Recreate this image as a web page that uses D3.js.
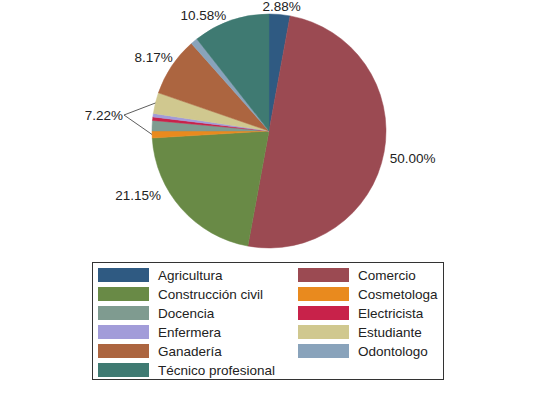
<!DOCTYPE html>
<html>
<head>
<meta charset="utf-8">
<script src="https://cdn.jsdelivr.net/npm/d3@7"></script>
<style>
  body { margin: 0; background: #fff; }
  text { font-family: "Liberation Sans", Arial, sans-serif; fill: #222; }
</style>
</head>
<body>
<svg id="pie" width="540" height="393"></svg>
<script>
// categories and shares (percent of respondents)
var categories = ["Agricultura", "Comercio", "Construcción civil", "Cosmetologa", "Docencia",
                  "Electricista", "Enfermera", "Estudiante", "Ganadería", "Odontologo", "Técnico profesional"];
var shares = [2.88, 50.00, 21.15, 0.96, 1.44, 0.48, 0.48, 2.88, 8.17, 0.96, 10.58];
var colors = ["#2f5a82", "#9b4a52", "#698a46", "#e98a1e", "#7f9b90", "#c8224a",
              "#a29cd9", "#d0c88f", "#ac6540", "#89a3bb", "#3f7a72"];

// labels shown on the pie
var labelText = ["2.88%", "50.00%", "21.15%", "8.17%", "10.58%"];
var labelSlice = ["Agricultura", "Comercio", "Construcción civil", "Ganadería", "Técnico profesional"];
// grouped label for the small slices
var groupLabel = "7.22%";
var groupSlices = ["Estudiante", "Cosmetologa"];

var svg = d3.select("#pie");
var cx = 269, cy = 131, r = 117;

var data = categories.map(function(c, i) { return { name: c, value: shares[i], color: colors[i] }; });

var pie = d3.pie().sort(null).value(function(d) { return d.value; });
var arcs = pie(data);
var arc = d3.arc().innerRadius(0).outerRadius(r);

var g = svg.append("g").attr("transform", "translate(" + cx + "," + cy + ")");

g.selectAll("path")
  .data(arcs)
  .enter()
  .append("path")
    .attr("d", arc)
    .attr("fill", function(d) { return d.data.color; })
    .attr("stroke", function(d) { return d.data.color; })
    .attr("stroke-width", 0.5);

// label nudges from the mid-angle point at radius 140
var nudge = [[0, 15], [6, 2], [-26, -29], [1, 4], [-20, 16]];
var labelArc = d3.arc().innerRadius(140).outerRadius(140);

labelText.forEach(function(t, i) {
  var a = arcs[categories.indexOf(labelSlice[i])];
  var p = labelArc.centroid(a);
  g.append("text")
    .attr("x", p[0] + nudge[i][0])
    .attr("y", p[1] + nudge[i][1])
    .attr("text-anchor", "middle")
    .attr("dy", "0.36em")
    .style("font-size", "13.5px")
    .text(t);
});

// grouped label with leader lines
var gx = -146, gy = -16;
g.append("text")
  .attr("x", gx)
  .attr("y", gy)
  .attr("text-anchor", "end")
  .attr("dy", "0.36em")
  .style("font-size", "13.5px")
  .text(groupLabel);

var edgeArc = d3.arc().innerRadius(r).outerRadius(r);
groupSlices.forEach(function(s) {
  var a = arcs[categories.indexOf(s)];
  var p = edgeArc.centroid(a);
  g.append("line")
    .attr("x1", gx + 1).attr("y1", gy)
    .attr("x2", p[0]).attr("y2", p[1])
    .attr("stroke", "#333")
    .attr("stroke-width", 0.8);
});

// legend
var lg = svg.append("g");
lg.append("rect")
  .attr("x", 92.5).attr("y", 262.5)
  .attr("width", 351).attr("height", 117)
  .attr("fill", "#fff")
  .attr("stroke", "#333")
  .attr("stroke-width", 1);

var colX = [98, 298], rowY0 = 275, rowH = 19;
data.forEach(function(d, i) {
  var col = i % 2, row = Math.floor(i / 2);
  var x = colX[col], y = rowY0 + row * rowH;
  lg.append("rect")
    .attr("x", x).attr("y", y - 7)
    .attr("width", 51).attr("height", 14)
    .attr("fill", d.color);
  lg.append("text")
    .attr("x", x + 60).attr("y", y)
    .attr("dy", "0.36em")
    .style("font-size", "13.5px")
    .text(d.name);
});
</script>
</body>
</html>
